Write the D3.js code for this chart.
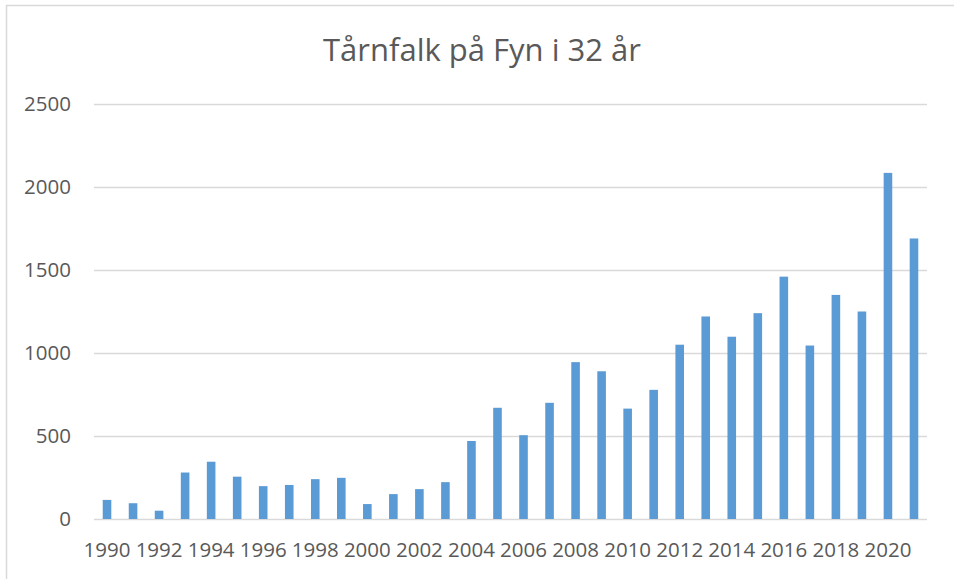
<!DOCTYPE html>
<html>
<head>
<meta charset="utf-8">
<script src="https://cdn.jsdelivr.net/npm/d3@7"></script>
<style>
  html, body { margin: 0; padding: 0; background: #fff; }
  svg { display: block; }
  text { font-family: "Open Sans", sans-serif; fill: #595959; }
</style>
</head>
<body>
<svg id="chart" width="954" height="579"></svg>
<script>
const title = "Tårnfalk på Fyn i 32 år";
const years = d3.range(1990, 2022).map(String);
const values = [115, 95, 50, 280, 345, 255, 198, 205, 240, 248,
                90, 150, 180, 222, 470, 670, 505, 700, 945, 890,
                665, 778, 1050, 1220, 1098, 1240, 1460, 1045, 1350, 1250,
                2085, 1690];
const yTicks = [0, 500, 1000, 1500, 2000, 2500];
const xTickLabels = years.filter((d, i) => i % 2 === 0);

const svg = d3.select("#chart");
const W = 954, H = 579;
const m = { left: 94, right: 27, top: 104, bottom: 60 };

// frame
svg.append("rect")
  .attr("x", 6.5).attr("y", 5.5)
  .attr("width", W + 10).attr("height", H + 10)
  .attr("fill", "none").attr("stroke", "#d9d9d9").attr("stroke-width", 1.5);

const x = d3.scaleBand().domain(years).range([m.left, W - m.right]).paddingInner(0.67).paddingOuter(0.335);
const y = d3.scaleLinear().domain([0, 2500]).range([519, 104]);

// gridlines
const yAxis = d3.axisLeft(y).tickValues(yTicks).tickSize(-(W - m.right - m.left)).tickPadding(23).tickFormat(d3.format("d"));
const gy = svg.append("g").attr("transform", `translate(${m.left},0)`).call(yAxis);
gy.select(".domain").remove();
gy.selectAll(".tick line").attr("stroke", "#d9d9d9").attr("stroke-width", 1.5);
gy.selectAll(".tick text").style("font-size", "20.5px").attr("fill", "#595959").attr("font-family", "Open Sans");

// bars
svg.append("g").selectAll("rect").data(values).join("rect")
  .attr("x", (d, i) => x(years[i]))
  .attr("y", d => y(d))
  .attr("width", x.bandwidth())
  .attr("height", d => y(0) - y(d))
  .attr("fill", "#5b9bd5");

// x axis
const xAxis = d3.axisBottom(x).tickValues(xTickLabels).tickSize(0).tickPadding(23);
const gx = svg.append("g").attr("transform", `translate(0,${y(0)})`).call(xAxis);
gx.select(".domain").remove();
gx.selectAll(".tick text").style("font-size", "20.5px").attr("fill", "#595959").attr("font-family", "Open Sans");

// title
svg.append("text")
  .attr("x", 482).attr("y", 61)
  .attr("text-anchor", "middle")
  .style("font-size", "31px")
  .text(title);
</script>
</body>
</html>
